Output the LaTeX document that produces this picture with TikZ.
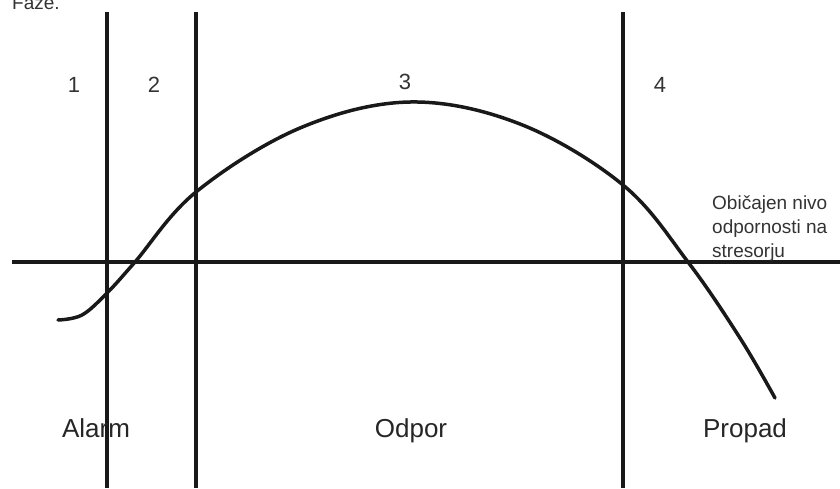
\documentclass[tikz,border=0pt]{standalone}
\usepackage{fontspec}
\setmainfont{Liberation Sans}
\begin{document}
\begin{tikzpicture}[x=1pt, y=-1pt, line join=round, line cap=butt]
				\useasboundingbox (0,0) rectangle (840,488);
				\tikzset{
					faza/.style={line width=3.5pt, black!90},
					oznaka/.style={font=\fontsize{22}{22}\selectfont, text=black!80},
					ime/.style={anchor=base, font=\fontsize{26}{26}\selectfont, text=black!85},
				}
				% 1. Naslov (zgoraj odrezan)
				\node[anchor=base west, inner sep=0pt, font=\fontsize{19}{19}\selectfont, text=black!80] (naslov) at (12,9) {Faze.};
				
				% 2. Meje faz (navpicne crte) in os
				\draw[faza] (107,12) -- (107,488);
				\draw[faza] (196,12) -- (196,488);
				\draw[faza] (623,12) -- (623,488);
				\draw[faza] (12,262) -- (840,262);
				
				% 3. Oznake faz
				\node[oznaka] (f1) at (74,85) {1};
				\node[oznaka] (f2) at (154,85) {2};
				\node[oznaka] (f3) at (405,82) {3};
				\node[oznaka] (f4) at (660,85) {4};
				
				% 4. Krivulja odpornosti
				\draw[line width=3.5pt, black!90, line cap=round, smooth, tension=0.6]
				plot coordinates {(58,320) (82,315) (107,293) (135,262) (196,192) (300,128) (410,102) (520,124) (623,185) (688,262) (740,338) (775,398)};
				
				% 5. Obicajen nivo
				\node[anchor=north west, align=left, inner sep=0pt, font=\fontsize{19}{24}\selectfont, text=black!80] (nivo) at (712,195) {Običajen nivo\\odpornosti na\\stresorju};
				
				% 6. Imena faz
				\node[ime] (alarm) at (96,437) {Alarm};
				\node[ime] (odpor) at (411,437) {Odpor};
				\node[ime] (propad) at (745,437) {Propad};
				
			\end{tikzpicture}
\end{document}
